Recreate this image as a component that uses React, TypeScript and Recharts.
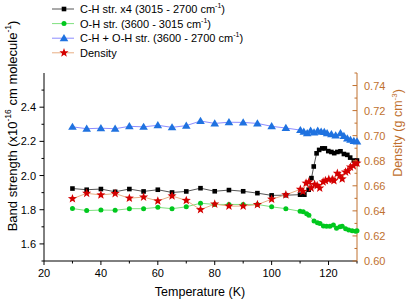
import { LineChart, Line, XAxis, YAxis, Legend } from "recharts";

// temperatures (K) and readings
const chTemps = [30, 35, 40, 45, 50, 55, 60, 65, 70, 75, 80, 85, 90, 95, 100, 105,
  110, 111.5, 113, 114, 114.8, 115.8, 116.7, 117.8, 118.7, 119.9, 121, 122, 123.1, 124.2, 125.4, 126.6, 127.6, 128.9, 130];
const chValues = [1.924, 1.917, 1.921, 1.905, 1.921, 1.907, 1.917, 1.901, 1.907, 1.926, 1.908, 1.915, 1.908, 1.897, 1.884, 1.885,
  1.888, 1.888, 1.917, 1.985, 2.053, 2.13, 2.15, 2.159, 2.159, 2.143, 2.138, 2.131, 2.138, 2.142, 2.126, 2.121, 2.105, 2.088, 2.088];

const ohTemps = [30, 35, 40, 45, 50, 55, 60, 65, 70, 75, 80, 85, 90, 95, 100, 105,
  110, 111.1, 112.3, 113.1, 114.9, 116.1, 117, 118.2, 119.3, 120.5, 121.7, 122.8, 124, 124.8, 126, 127.1, 128.3, 129.5, 130];
const ohValues = [1.807, 1.795, 1.798, 1.797, 1.806, 1.806, 1.814, 1.806, 1.817, 1.838, 1.831, 1.831, 1.831, 1.831, 1.817, 1.806,
  1.791, 1.788, 1.777, 1.767, 1.734, 1.724, 1.72, 1.705, 1.703, 1.703, 1.71, 1.691, 1.7, 1.703, 1.688, 1.681, 1.677, 1.674, 1.677];

const sumTemps = [30, 35, 40, 45, 50, 55, 60, 65, 70, 75, 80, 85, 90, 95, 100, 105,
  110.1, 111.3, 112.5, 113.7, 114.9, 116.2, 117.4, 118.5, 119.5, 121, 122.5, 124.2, 125.4, 126.6, 127.7, 128.9, 130];
const sumValues = [2.285, 2.274, 2.277, 2.274, 2.288, 2.285, 2.294, 2.282, 2.292, 2.319, 2.305, 2.312, 2.311, 2.305, 2.288, 2.278,
  2.266, 2.256, 2.248, 2.262, 2.252, 2.262, 2.256, 2.255, 2.248, 2.242, 2.234, 2.248, 2.231, 2.217, 2.209, 2.202, 2.199];

const densTemps = [30, 35, 40, 45, 50, 55, 60, 65, 70, 75, 80, 85, 90, 95, 100, 105,
  110.1, 111, 112.1, 113.1, 113.9, 115.1, 116, 116.9, 118.1, 118.9, 120.1, 121.3, 121.9, 123.1, 123.9, 124.8, 126, 126.8, 127.7, 128.7, 129.5, 130];
const densValues = [0.6497, 0.654, 0.6527, 0.6538, 0.6501, 0.651, 0.6479, 0.6519, 0.6483, 0.641, 0.6454, 0.6438, 0.6438, 0.645, 0.6493, 0.6528,
  0.6572, 0.6555, 0.6621, 0.6631, 0.6582, 0.6611, 0.6602, 0.6582, 0.6631, 0.6641, 0.6651, 0.6651, 0.6641, 0.67, 0.668, 0.6655, 0.671, 0.672, 0.675, 0.676, 0.678, 0.678];

const xTicks = [20, 30, 40, 50, 60, 70, 80, 90, 100, 110, 120, 130];
const leftTicks = [1.5, 1.6, 1.7, 1.8, 1.9, 2.0, 2.1, 2.2, 2.3, 2.4, 2.5];
const rightTicks = [0.6, 0.61, 0.62, 0.63, 0.64, 0.65, 0.66, 0.67, 0.68, 0.69, 0.7, 0.71, 0.72, 0.73, 0.74, 0.75];

const rows = (ts: number[], vs: number[]) => ts.map((t, i) => ({ t, v: vs[i] }));

const BROWN = "#C0702E";
const FONT = "Liberation Sans, Arial, sans-serif";

const Square = ({ cx, cy, fill }: any) => <rect x={cx - 2.3} y={cy - 2.3} width={4.6} height={4.6} fill={fill} />;
const Circle = ({ cx, cy, fill }: any) => <circle cx={cx} cy={cy} r={2.5} fill={fill} />;
const Triangle = ({ cx, cy, fill }: any) => (
  <polygon points={`${cx},${cy - 4.2} ${cx - 4.3},${cy + 3} ${cx + 4.3},${cy + 3}`} fill={fill} />
);
const Star = ({ cx, cy, fill }: any) => {
  const pts: string[] = [];
  for (let i = 0; i < 10; i++) {
    const r = i % 2 === 0 ? 4.8 : 2.0;
    const a = -Math.PI / 2 + (i * Math.PI) / 5;
    pts.push(`${cx + r * Math.cos(a)},${cy + r * Math.sin(a)}`);
  }
  return <polygon points={pts.join(" ")} fill={fill} />;
};

const series = [
  { name: "C-H str. x4 (3015 - 2700 cm", sup: "-1", tail: ")", data: rows(chTemps, chValues), axis: "l", line: "#555555", mark: "#000000", Shape: Square },
  { name: "O-H str. (3600 - 3015 cm", sup: "-1", tail: ")", data: rows(ohTemps, ohValues), axis: "l", line: "#7FE07F", mark: "#00C81E", Shape: Circle },
  { name: "C-H + O-H str. (3600 - 2700 cm", sup: "-1", tail: ")", data: rows(sumTemps, sumValues), axis: "l", line: "#8C8CFF", mark: "#1F72E0", Shape: Triangle },
  { name: "Density", sup: "", tail: "", data: rows(densTemps, densValues), axis: "r", line: "#E8AE84", mark: "#D40000", Shape: Star },
];

const XTick = ({ x, y, payload }: any) => {
  const major = payload.value % 20 === 0;
  return (
    <g>
      <line x1={x} x2={x} y1={y} y2={y + (major ? 4 : 2.5)} stroke="#000" />
      {major && (
        <text x={x} y={y + 12} textAnchor="middle" dominantBaseline="central" fontSize={11} fontFamily={FONT} fill="#000">
          {payload.value}
        </text>
      )}
    </g>
  );
};

const LeftTick = ({ x, y, payload }: any) => {
  const major = Math.round(payload.value * 10) % 2 === 0 && payload.value > 1.55;
  return (
    <g>
      <line x1={x - (major ? 4.5 : 2.5)} x2={x} y1={y} y2={y} stroke="#000" />
      {major && (
        <text x={x - 8} y={y} textAnchor="end" dominantBaseline="central" fontSize={11} fontFamily={FONT} fill="#000">
          {payload.value.toFixed(1)}
        </text>
      )}
    </g>
  );
};

const RightTick = ({ x, y, payload }: any) => {
  const major = Math.round(payload.value * 100) % 2 === 0;
  return (
    <g>
      <line x1={x - (major ? 4.5 : 2.5)} x2={x} y1={y} y2={y} stroke={BROWN} />
      {major && (
        <text x={x + 7} y={y} textAnchor="start" dominantBaseline="central" fontSize={11} fontFamily={FONT} fill={BROWN}>
          {payload.value.toFixed(2)}
        </text>
      )}
    </g>
  );
};

const LeftTitle = () => (
  <text x={12} y={126} transform="rotate(-90 12 126)" textAnchor="middle" dominantBaseline="central" fontSize={13} fontFamily={FONT} fill="#000">
    Band strength (x10<tspan dy={-4} fontSize={8.5}>-16</tspan><tspan dy={4}> cm molecule</tspan>
    <tspan dy={-4} fontSize={8.5}>-1</tspan><tspan dy={4}>)</tspan>
  </text>
);

const RightTitle = () => (
  <text x={398} y={133} transform="rotate(-90 398 133)" textAnchor="middle" dominantBaseline="central" fontSize={12.5} fontFamily={FONT} fill={BROWN}>
    Density (g cm<tspan dy={-4} fontSize={8}>-3</tspan><tspan dy={4}>)</tspan>
  </text>
);

const BottomTitle = () => (
  <text x={200} y={292} textAnchor="middle" dominantBaseline="central" fontSize={12.5} fontFamily={FONT} fill="#000">
    Temperature (K)
  </text>
);

const LegendBox = () => (
  <svg width={240} height={64}>
    {series.map((s, i) => {
      const y = 9 + i * 14.6;
      return (
        <g key={s.name}>
          <line x1={0} x2={22} y1={y} y2={y} stroke={s.line} />
          <s.Shape cx={12} cy={y} fill={s.mark} />
          <text x={28} y={y} dominantBaseline="central" fontSize={11} fontFamily={FONT} fill="#000">
            {s.name}
            {s.sup && <tspan dy={-4} fontSize={7}>{s.sup}</tspan>}
            {s.tail && <tspan dy={4}>{s.tail}</tspan>}
          </text>
        </g>
      );
    })}
  </svg>
);

export default function App() {
  return (
    <div style={{ position: "absolute", left: 0, top: 0, background: "#fff" }}>
      <LineChart width={407} height={302} margin={{ top: 5, right: 0, bottom: 0, left: 0 }}>
        <XAxis
          dataKey="t"
          type="number"
          domain={[20, 130]}
          ticks={xTicks}
          interval={0}
          tickSize={0}
          tickMargin={0}
          tickLine={false}
          tick={<XTick />}
          height={41}
          stroke="#000"
          label={<BottomTitle />}
        />
        <YAxis
          yAxisId="l"
          orientation="left"
          type="number"
          domain={[1.5, 2.6]}
          ticks={leftTicks}
          interval={0}
          tickSize={0}
          tickMargin={0}
          tickLine={false}
          tick={<LeftTick />}
          width={44}
          stroke="#000"
          label={<LeftTitle />}
        />
        <YAxis
          yAxisId="r"
          orientation="right"
          type="number"
          domain={[0.6, 0.75]}
          ticks={rightTicks}
          interval={0}
          tickSize={0}
          tickMargin={0}
          tickLine={false}
          tick={<RightTick />}
          width={50}
          stroke={BROWN}
          label={<RightTitle />}
        />
        <Legend
          verticalAlign="top"
          align="left"
          content={<LegendBox />}
          wrapperStyle={{ position: "absolute", left: 52, top: 0, width: 240 }}
        />
        {series.map((s) => (
          <Line
            key={s.name}
            data={s.data}
            dataKey="v"
            yAxisId={s.axis}
            stroke={s.line}
            strokeWidth={1}
            isAnimationActive={false}
            dot={(p: any) => <s.Shape key={`${s.name}-${p.index}`} cx={p.cx} cy={p.cy} fill={s.mark} />}
            activeDot={false}
          />
        ))}
      </LineChart>
    </div>
  );
}
